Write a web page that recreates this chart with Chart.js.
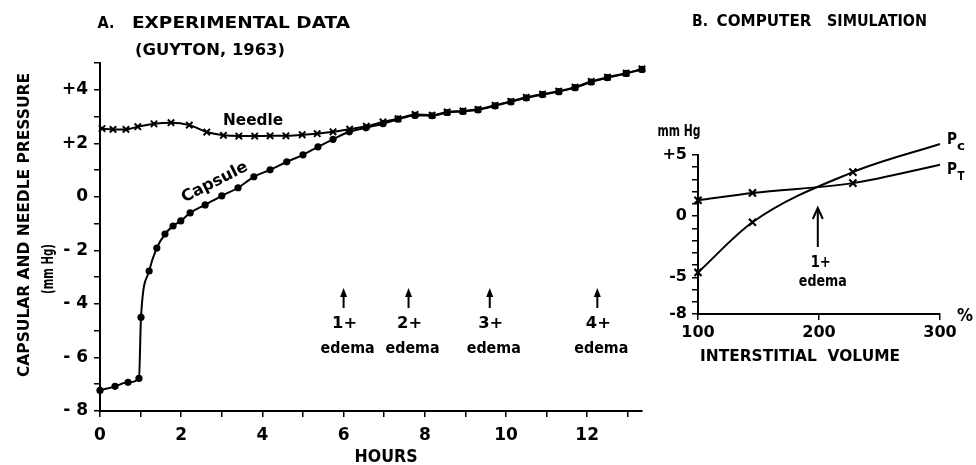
<!DOCTYPE html>
<html><head><meta charset="utf-8">
<script src="https://cdn.jsdelivr.net/npm/chart.js@4"></script>
<style>
html,body{margin:0;padding:0;background:#fff;}
#wrap{position:relative;width:976px;height:465px;background:#fff;}
canvas{position:absolute;left:0;top:0;}
</style></head><body>
<div id="wrap"><canvas id="a" width="976" height="465"></canvas><canvas id="b" width="976" height="465"></canvas></div>
<script>
// ---- Panel A: experimental data ----
const capsuleHours = [0,0.37,0.69,0.96,1.01,1.21,1.40,1.60,1.80,1.99,2.22,2.59,3.00,3.40,3.79,4.19,4.60,5.00,5.37,5.74,6.14,6.55,6.97,7.34,7.76,8.18,8.55,8.94,9.31,9.73,10.12,10.50,10.90,11.30,11.70,12.10,12.50,12.96,13.35];
const capsulePressure = [-7.23,-7.08,-6.93,-6.78,-4.50,-2.77,-1.91,-1.39,-1.09,-0.90,-0.60,-0.30,0.04,0.34,0.75,1.01,1.31,1.57,1.87,2.15,2.43,2.58,2.73,2.90,3.04,3.03,3.15,3.19,3.25,3.40,3.55,3.70,3.82,3.93,4.08,4.29,4.45,4.61,4.76];
const needleHours = [0.05,0.32,0.64,0.93,1.33,1.75,2.20,2.63,3.04,3.42,3.81,4.19,4.58,4.98,5.35,5.74,6.15,6.56,6.97,7.34,7.76,8.18,8.55,8.94,9.31,9.73,10.12,10.50,10.90,11.30,11.70,12.10,12.50,12.96,13.35];
const needlePressure = [2.55,2.52,2.52,2.62,2.73,2.77,2.68,2.42,2.30,2.27,2.27,2.28,2.28,2.32,2.36,2.43,2.53,2.64,2.80,2.92,3.08,3.05,3.17,3.21,3.27,3.42,3.57,3.72,3.84,3.95,4.10,4.31,4.47,4.62,4.78];
const hourTicks = [0,1,2,3,4,5,6,7,8,9,10,11,12,13];
const hourTickLabels = {0:'0',2:'2',4:'4',6:'6',8:'8',10:'10',12:'12'};
const pressureTicks = [-8,-7,-6,-5,-4,-3,-2,-1,0,1,2,3,4,5];
const pressureTickLabels = {'4':'+4','2':'+2','0':'0','-2':'- 2','-4':'- 4','-6':'- 6','-8':'- 8'};
const edemaHours = [6.0,7.6,9.6,12.25];
const edemaGrades = ['1+','2+','3+','4+'];

// ---- Panel B: computer simulation ----
const volumePct = [100,145,228,300];
const capsularSim = [-4.6,-0.5,3.6,5.9];
const tissueSim = [1.3,1.9,2.7,4.2];
const simMarked = [true,true,true,false];
const volumeTicks = [100,200,300];
const simPressureTicks = [-8,-7,-6,-5,-4,-3,-2,-1,0,1,2,3,4,5];
const simPressureLabels = {'5':'+5','0':'0','-5':'-5','-8':'-8'};
const simEdemaVolume = 199;
const simEdemaGrade = '1+';

const FONT = '"DejaVu Sans", "Liberation Sans", Arial, sans-serif';

function drawFit(ctx, text, cx, cy, width, size, angle) {
  ctx.save();
  ctx.font = 'bold ' + size + 'px ' + FONT;
  ctx.translate(cx, cy);
  if (angle) ctx.rotate(angle);
  ctx.textBaseline = 'alphabetic';
  ctx.textAlign = 'center';
  const natural = ctx.measureText(text).width;
  ctx.scale(width / natural, 1);
  ctx.fillText(text, 0, size * 0.36);
  ctx.restore();
}

const panelA = {
  id: 'panelA',
  afterDraw(chart) {
    const {ctx, scales: {x}} = chart;
    ctx.save();
    ctx.fillStyle = '#000'; ctx.strokeStyle = '#000';
    drawFit(ctx, 'A.', 106, 22, 17, 16);
    drawFit(ctx, 'EXPERIMENTAL DATA', 241, 22, 218, 16);
    drawFit(ctx, '(GUYTON, 1963)', 210, 50, 150, 15);
    drawFit(ctx, 'CAPSULAR AND NEEDLE PRESSURE', 23, 225, 304, 16, -Math.PI / 2);
    drawFit(ctx, '(mm Hg)', 48, 269, 50, 15, -Math.PI / 2);
    drawFit(ctx, 'Needle', 253, 119, 60, 16);
    drawFit(ctx, 'Capsule', 214, 181, 72, 16, -0.47);
    drawFit(ctx, 'HOURS', 386, 456, 63, 17);
    edemaHours.forEach((h, i) => {
      const px = x.getPixelForValue(h);
      ctx.lineWidth = 2;
      ctx.beginPath(); ctx.moveTo(px, 294); ctx.lineTo(px, 308); ctx.stroke();
      ctx.beginPath(); ctx.moveTo(px, 288); ctx.lineTo(px - 3.5, 297); ctx.lineTo(px + 3.5, 297); ctx.closePath(); ctx.fill();
      drawFit(ctx, edemaGrades[i], px + 1, 322, 25, 16);
      drawFit(ctx, 'edema', px + 4, 347, 54, 16);
    });
    ctx.restore();
  }
};

const panelB = {
  id: 'panelB',
  afterDraw(chart) {
    const {ctx, scales: {x}} = chart;
    ctx.save();
    ctx.fillStyle = '#000'; ctx.strokeStyle = '#000';
    drawFit(ctx, 'B.', 700, 20, 16, 16);
    drawFit(ctx, 'COMPUTER', 764, 20, 95, 16);
    drawFit(ctx, 'SIMULATION', 877, 20, 100, 16);
    drawFit(ctx, 'mm Hg', 679, 131, 43, 15);
    drawFit(ctx, '%', 965, 315, 16, 17);
    drawFit(ctx, 'INTERSTITIAL  VOLUME', 800, 355, 200, 16);
    drawFit(ctx, 'P', 952, 139, 10, 15);
    drawFit(ctx, 'c', 961, 146, 8, 12);
    drawFit(ctx, 'P', 952, 169, 10, 15);
    drawFit(ctx, 'T', 961, 176, 7, 12);
    const px = x.getPixelForValue(simEdemaVolume);
    ctx.lineWidth = 2;
    ctx.beginPath(); ctx.moveTo(px, 209); ctx.lineTo(px, 247); ctx.stroke();
    ctx.beginPath(); ctx.moveTo(px - 5, 219); ctx.lineTo(px, 208); ctx.lineTo(px + 5, 219); ctx.stroke();
    drawFit(ctx, simEdemaGrade, px + 3, 262, 20, 15);
    drawFit(ctx, 'edema', px + 5, 281, 48, 15);
    ctx.restore();
  }
};

function axisCommon() {
  return {
    grid: {drawOnChartArea: false, drawTicks: true, tickLength: 6, color: '#000', lineWidth: 1.5},
    border: {color: '#000', width: 2}
  };
}

new Chart(document.getElementById('a'), {
  type: 'scatter',
  data: {datasets: [
    {label: 'Capsule', data: capsuleHours.map((h, i) => ({x: h, y: capsulePressure[i]})), showLine: true,
     borderColor: '#000', backgroundColor: '#000', borderWidth: 2, pointStyle: 'circle', pointRadius: 3.6,
     pointBorderWidth: 0, cubicInterpolationMode: 'monotone', clip: false},
    {label: 'Needle', data: needleHours.map((h, i) => ({x: h, y: needlePressure[i]})), showLine: true,
     borderColor: '#000', backgroundColor: '#000', borderWidth: 2, pointStyle: 'crossRot', pointRadius: 4.5,
     pointBorderWidth: 2, cubicInterpolationMode: 'monotone', clip: false}
  ]},
  options: {
    responsive: false, animation: false, devicePixelRatio: 1,
    layout: {padding: {left: 60, right: 334, top: 63, bottom: 20}},
    plugins: {legend: {display: false}, tooltip: {enabled: false}},
    scales: {
      x: Object.assign(axisCommon(), {
        type: 'linear', min: 0, max: 13.35,
        afterBuildTicks: ax => { ax.ticks = hourTicks.map(v => ({value: v})); },
        afterFit: s => { s.height = 34; },
        ticks: {autoSkip: false, maxRotation: 0, padding: 8, color: '#000',
                font: {family: FONT, size: 17, weight: 'bold'},
                callback: v => hourTickLabels[v] || ''}
      }),
      y: Object.assign(axisCommon(), {
        type: 'linear', min: -8, max: 5,
        afterBuildTicks: ax => { ax.ticks = pressureTicks.map(v => ({value: v})); },
        afterFit: s => { s.width = 40; },
        ticks: {autoSkip: false, padding: 6, color: '#000',
                font: {family: FONT, size: 17, weight: 'bold'},
                callback: v => pressureTickLabels[String(v)] || ''}
      })
    }
  },
  plugins: [panelA]
});

new Chart(document.getElementById('b'), {
  type: 'scatter',
  data: {datasets: [
    {label: 'Pc', data: volumePct.map((v, i) => ({x: v, y: capsularSim[i]})), showLine: true,
     borderColor: '#000', backgroundColor: '#000', borderWidth: 2, pointStyle: 'crossRot',
     pointRadius: simMarked.map(m => m ? 5 : 0), pointBorderWidth: 2.2, cubicInterpolationMode: 'monotone', clip: false},
    {label: 'PT', data: volumePct.map((v, i) => ({x: v, y: tissueSim[i]})), showLine: true,
     borderColor: '#000', backgroundColor: '#000', borderWidth: 2, pointStyle: 'crossRot',
     pointRadius: simMarked.map(m => m ? 5 : 0), pointBorderWidth: 2.2, cubicInterpolationMode: 'monotone', clip: false}
  ]},
  options: {
    responsive: false, animation: false, devicePixelRatio: 1,
    layout: {padding: {left: 650, right: 36, top: 155, bottom: 121}},
    plugins: {legend: {display: false}, tooltip: {enabled: false}},
    scales: {
      x: Object.assign(axisCommon(), {
        type: 'linear', min: 100, max: 300,
        afterBuildTicks: ax => { ax.ticks = volumeTicks.map(v => ({value: v})); },
        afterFit: s => { s.height = 30; },
        ticks: {autoSkip: false, maxRotation: 0, padding: 3, color: '#000',
                font: {family: FONT, size: 16, weight: 'bold'}}
      }),
      y: Object.assign(axisCommon(), {
        type: 'linear', min: -8, max: 5,
        afterBuildTicks: ax => { ax.ticks = simPressureTicks.map(v => ({value: v})); },
        afterFit: s => { s.width = 48; },
        ticks: {autoSkip: false, padding: 5, color: '#000',
                font: {family: FONT, size: 16, weight: 'bold'},
                callback: v => simPressureLabels[String(v)] || ''}
      })
    }
  },
  plugins: [panelB]
});
</script>
</body></html>
